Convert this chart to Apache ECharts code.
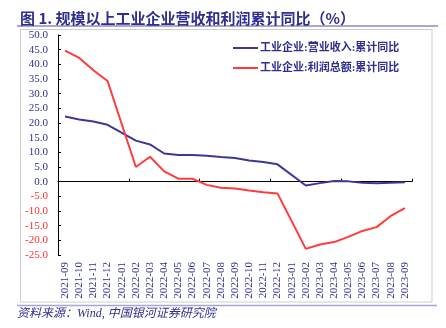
<!DOCTYPE html>
<html>
<head>
<meta charset="utf-8">
<script src="https://cdn.jsdelivr.net/npm/echarts@6/dist/echarts.min.js"></script>
<style>html,body{margin:0;padding:0;background:#fff;}#c{width:446px;height:328px;}</style>
</head>
<body>
<div id="c"></div>
<script>
var categories = ['2021-09','2021-10','2021-11','2021-12','2022-01','2022-02','2022-03','2022-04','2022-05','2022-06','2022-07','2022-08','2022-09','2022-10','2022-11','2022-12','2023-01','2023-02','2023-03','2023-04','2023-05','2023-06','2023-07','2023-08','2023-09'];
var revenueYoY = [22.2,21.2,20.5,19.4,null,14.0,12.7,9.6,9.1,9.1,8.8,8.4,8.1,7.2,6.7,5.9,null,-1.3,-0.5,0.2,0.1,-0.4,-0.5,-0.4,-0.2];
var profitYoY = [44.7,42.2,38.0,34.3,null,5.0,8.5,3.5,1.0,1.0,-1.1,-2.1,-2.3,-3.0,-3.6,-4.0,null,-22.9,-21.4,-20.6,-18.8,-16.8,-15.5,-11.7,-9.0];
var seriesNames = ['工业企业:营业收入:累计同比','工业企业:利润总额:累计同比'];
var titleText = '图 1. 规模以上工业企业营收和利润累计同比（%）';
var sourceText = '资料来源：Wind, 中国银河证券研究院';

var NAVY = '#2f2f8f';
var SERIF = "'Liberation Serif','Noto Sans CJK SC',serif";
var chart = echarts.init(document.getElementById('c'), null, {renderer:'canvas'});
chart.setOption({
  animation: false,
  backgroundColor: '#fff',
  title: {
    text: titleText, left: 15, top: 6,
    textStyle: {fontSize: 15, fontWeight: 'bold', color: NAVY, fontFamily: "'Noto Sans CJK SC',sans-serif"}
  },
  graphic: [
    {type:'line', shape:{x1:17,y1:26,x2:438,y2:26}, style:{stroke:'#8f89c9', lineWidth:1.5}},
    {type:'rect', shape:{x:20.5,y:29.5,width:411.5,height:272.5}, style:{fill:null, stroke:'#cfcfcf', lineWidth:1}},
    {type:'line', shape:{x1:17,y1:305.5,x2:437,y2:305.5}, style:{stroke:'#a9a4d6', lineWidth:1.5}},
    {type:'text', left:17, top:308, style:{text:sourceText, fill:NAVY, font:"italic 12px 'Liberation Serif','Noto Sans CJK SC',serif"}}
  ],
  legend: {
    orient: 'vertical', left: 228, top: 36,
    itemWidth: 25, itemHeight: 2, itemGap: 6,
    icon: 'rect',
    data: seriesNames,
    textStyle: {fontSize: 11, lineHeight: 14, color: NAVY, fontFamily: SERIF, fontWeight: 'bold', padding:[0,0,0,-3]}
  },
  grid: {left: 58, right: 34, top: 35, bottom: 73},
  xAxis: [
    {
      type: 'category', data: categories, boundaryGap: true,
      axisLine: {show: false, onZero: false}, axisTick: {show: false},
      axisLabel: {interval: 0, rotate: 90, margin: 7, fontSize: 11, color: NAVY, fontFamily: SERIF}
    },
    {
      type: 'category', data: categories, boundaryGap: true, position: 'bottom',
      axisLine: {show: true, onZero: true, lineStyle: {color: '#000', width: 1}},
      axisTick: {show: true, inside: true, length: 3, lineStyle: {color: '#000'}},
      axisLabel: {show: false}
    }
  ],
  yAxis: {
    type: 'value', min: -25, max: 50, interval: 5,
    splitLine: {show: false},
    axisLine: {show: true, lineStyle: {color: '#000', width: 1}},
    axisTick: {show: true, inside: true, length: 3, lineStyle: {color: '#000'}},
    axisLabel: {
      margin: 10, fontSize: 11, fontFamily: SERIF,
      formatter: function(v){ return v.toFixed(1); },
      color: function(v){ return Number(v) < 0 ? '#ff3030' : NAVY; }
    }
  },
  series: [
    {name: seriesNames[0], type: 'line', data: revenueYoY, connectNulls: true, symbol: 'none',
     lineStyle: {color: '#3d3898', width: 2}, itemStyle: {color: '#3d3898'}},
    {name: seriesNames[1], type: 'line', data: profitYoY, connectNulls: true, symbol: 'none',
     lineStyle: {color: '#ff3b3b', width: 2}, itemStyle: {color: '#ff3b3b'}}
  ]
});
</script>
</body>
</html>
